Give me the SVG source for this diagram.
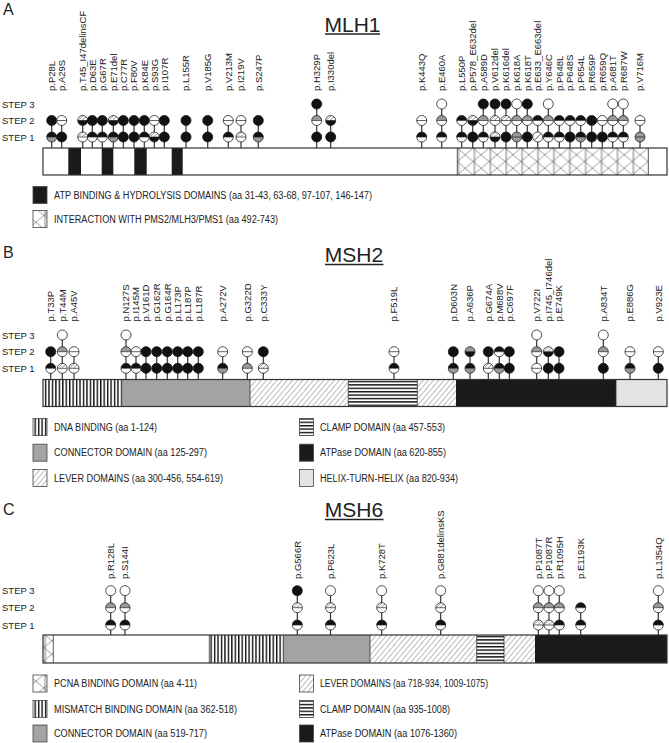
<svg xmlns="http://www.w3.org/2000/svg" width="669" height="743" viewBox="0 0 669 743">
<style>
text{font-family:"Liberation Sans",Arial,sans-serif;fill:#222}
.lb{font-size:9.5px}
.st{font-size:9.5px}
.lg{font-size:10px}
.ttl{font-size:21px;text-anchor:middle}
.pl{font-size:16px}
.stem line{stroke:#333;stroke-width:1.2}
.bar{fill:none;stroke:#333;stroke-width:1.2}
.sep{stroke:#333;stroke-width:.8}
.sw{stroke:#444;stroke-width:.8}
.ul{stroke:#222;stroke-width:1.3}
</style>
<defs>
<pattern id="vs" patternUnits="userSpaceOnUse" width="3.45" height="10"><rect width="3.45" height="10" fill="#fff"/><rect width="1.4" height="10" fill="#111"/></pattern>
<pattern id="hs" patternUnits="userSpaceOnUse" width="10" height="3.4"><rect width="10" height="3.4" fill="#fff"/><rect width="10" height="1.4" fill="#111"/></pattern>
<pattern id="ht" patternUnits="userSpaceOnUse" width="4" height="4" patternTransform="rotate(40)"><rect width="4" height="4" fill="#fff"/><line x1="0" y1="0" x2="0" y2="4" stroke="#555" stroke-width=".8"/></pattern>
<pattern id="xh" patternUnits="userSpaceOnUse" x="457.3" y="148" width="15.9" height="13.5"><rect width="15.9" height="13.5" fill="#fff"/><rect width="2.4" height="13.5" fill="#c4c4c4"/><path d="M0,0L15.9,13.5M15.9,0L0,13.5" stroke="#555" stroke-width=".6"/></pattern>
<path id="t" d="M-5,0A5,5 0 0 1 5,0Z"/>
<path id="b" d="M-5,0A5,5 0 0 0 5,0Z"/>
<g id="ring"><circle r="5" fill="none" stroke="#222" stroke-width=".8"/><path d="M-5,0H5" stroke="#222" stroke-width=".7"/></g>
<path id="hl" d="M-3.8,-0.6L0.4,-4.8M-0.6,-0.4L3.4,-3.6" stroke="#555" stroke-width=".6" fill="none"/>
<circle id="W" r="5" fill="#fff" stroke="#222" stroke-width=".8"/>
<circle id="B" r="5" fill="#111" stroke="#111" stroke-width=".8"/>
<g id="WW"><use href="#t" fill="#fff"/><use href="#b" fill="#fff"/><use href="#ring"/></g>
<g id="GW"><use href="#t" fill="#999"/><use href="#b" fill="#fff"/><use href="#ring"/></g>
<g id="BW"><use href="#t" fill="#111"/><use href="#b" fill="#fff"/><use href="#ring"/></g>
<g id="BG"><use href="#t" fill="#111"/><use href="#b" fill="#999"/><use href="#ring"/></g>
<g id="GB"><use href="#t" fill="#999"/><use href="#b" fill="#111"/><use href="#ring"/></g>
<g id="G"><use href="#t" fill="#999"/><use href="#b" fill="#999"/><use href="#ring"/></g>
<g id="HW"><use href="#t" fill="#fff"/><use href="#hl"/><use href="#b" fill="#fff"/><use href="#ring"/></g>
<g id="HB"><use href="#t" fill="#fff"/><use href="#hl"/><use href="#b" fill="#111"/><use href="#ring"/></g>
<g id="S"><circle r="5" fill="#fff" stroke="#222" stroke-width=".8"/><path d="M-3.4,3.4L3.4,-3.4" stroke="#222" stroke-width=".8"/></g>
</defs>
<rect width="669" height="743" fill="#fff"/>

<!-- ===================== PANEL A : MLH1 ===================== -->
<g id="panelA">
<text class="pl" x="3" y="15">A</text>
<text class="ttl" x="352.5" y="31.5">MLH1</text>
<line class="ul" x1="325" y1="34" x2="380" y2="34"/>
<text class="st" x="2" y="107.5">STEP 3</text>
<text class="st" x="2" y="124">STEP 2</text>
<text class="st" x="2" y="140.5">STEP 1</text>
<g id="mlh1-bar">
<rect x="43" y="148" width="624" height="27" fill="#fff"/>
<rect x="68.3" y="148" width="12.7" height="27" fill="#1a1a1a"/>
<rect x="101.7" y="148" width="11.6" height="27" fill="#1a1a1a"/>
<rect x="134.3" y="148" width="12.4" height="27" fill="#1a1a1a"/>
<rect x="171.7" y="148" width="11" height="27" fill="#1a1a1a"/>
<rect x="457.3" y="148" width="191" height="27" fill="url(#xh)"/>
<line class="sep" x1="457.3" y1="148" x2="457.3" y2="175"/>
<line class="sep" x1="648.3" y1="148" x2="648.3" y2="175"/>
<rect class="bar" x="43" y="148" width="624" height="27"/>
</g>
<g id="mlh1-connectors" class="stem">
<line x1="51.7" y1="120.5" x2="51.7" y2="148"/><line x1="61.7" y1="120.5" x2="61.7" y2="148"/>
<line x1="82.7" y1="120.5" x2="82.7" y2="148"/><line x1="92.3" y1="120.5" x2="92.3" y2="148"/>
<line x1="102.3" y1="120.5" x2="102.3" y2="148"/><line x1="113.3" y1="120.5" x2="113.3" y2="148"/>
<line x1="123.3" y1="120.5" x2="123.3" y2="148"/><line x1="134" y1="120.5" x2="134" y2="148"/>
<line x1="144.3" y1="120.5" x2="144.3" y2="148"/><line x1="154.3" y1="120.5" x2="154.3" y2="148"/>
<line x1="164.3" y1="120.5" x2="164.3" y2="148"/><line x1="186" y1="120.5" x2="186" y2="148"/>
<line x1="207.7" y1="120.5" x2="207.7" y2="148"/><line x1="228.3" y1="120.5" x2="228.3" y2="148"/>
<line x1="241" y1="120.5" x2="241" y2="148"/><line x1="258.3" y1="120.5" x2="258.3" y2="148"/>
<line x1="316.7" y1="104" x2="316.7" y2="148"/><line x1="330.7" y1="120.5" x2="330.7" y2="148"/>
<line x1="421.7" y1="120.5" x2="421.7" y2="148"/><line x1="441.7" y1="104" x2="441.7" y2="148"/>
<line x1="461.7" y1="120.5" x2="461.7" y2="148"/><line x1="472.7" y1="120.5" x2="472.7" y2="148"/>
<line x1="483.3" y1="104" x2="483.3" y2="148"/><line x1="495" y1="104" x2="495" y2="148"/>
<line x1="506" y1="104" x2="506" y2="148"/><line x1="516.7" y1="104" x2="516.7" y2="148"/>
<line x1="527.3" y1="104" x2="527.3" y2="148"/><line x1="537.7" y1="120.5" x2="537.7" y2="148"/>
<line x1="548.3" y1="104" x2="548.3" y2="148"/><line x1="559.3" y1="120.5" x2="559.3" y2="148"/>
<line x1="570" y1="120.5" x2="570" y2="148"/><line x1="580.7" y1="120.5" x2="580.7" y2="148"/>
<line x1="591.7" y1="120.5" x2="591.7" y2="148"/><line x1="602.3" y1="120.5" x2="602.3" y2="148"/>
<line x1="612.7" y1="104" x2="612.7" y2="148"/><line x1="623.3" y1="104" x2="623.3" y2="148"/>
<line x1="640" y1="120.5" x2="640" y2="148"/>
</g>
<g id="mlh1-P28L"><text class="lb" transform="translate(55.1,91)rotate(-90)">p.P28L</text><use href="#B" x="51.7" y="120.5"/><use href="#BG" x="51.7" y="137"/></g>
<g id="mlh1-A29S"><text class="lb" transform="translate(65.1,91)rotate(-90)">p.A29S</text><use href="#WW" x="61.7" y="120.5"/><use href="#B" x="61.7" y="137"/></g>
<g id="mlh1-T45"><text class="lb" transform="translate(86.1,91)rotate(-90)">p.T45_I47delinsCF</text><use href="#HB" x="82.7" y="120.5"/><use href="#HW" x="82.7" y="137"/></g>
<g id="mlh1-D63E"><text class="lb" transform="translate(95.7,91)rotate(-90)">p.D63E</text><use href="#B" x="92.3" y="120.5"/><use href="#BW" x="92.3" y="137"/></g>
<g id="mlh1-G67R"><text class="lb" transform="translate(105.7,91)rotate(-90)">p.G67R</text><use href="#B" x="102.3" y="120.5"/><use href="#BW" x="102.3" y="137"/></g>
<g id="mlh1-E71del"><text class="lb" transform="translate(116.7,91)rotate(-90)">p.E71del</text><use href="#HB" x="113.3" y="120.5"/><use href="#BG" x="113.3" y="137"/></g>
<g id="mlh1-C77R"><text class="lb" transform="translate(126.7,91)rotate(-90)">p.C77R</text><use href="#B" x="123.3" y="120.5"/><use href="#B" x="123.3" y="137"/></g>
<g id="mlh1-F80V"><text class="lb" transform="translate(137.4,91)rotate(-90)">p.F80V</text><use href="#B" x="134" y="120.5"/><use href="#B" x="134" y="137"/></g>
<g id="mlh1-K84E"><text class="lb" transform="translate(147.7,91)rotate(-90)">p.K84E</text><use href="#B" x="144.3" y="120.5"/><use href="#BW" x="144.3" y="137"/></g>
<g id="mlh1-S93G"><text class="lb" transform="translate(157.7,91)rotate(-90)">p.S93G</text><use href="#WW" x="154.3" y="120.5"/><use href="#HB" x="154.3" y="137"/></g>
<g id="mlh1-I107R"><text class="lb" transform="translate(167.7,91)rotate(-90)">p.I107R</text><use href="#B" x="164.3" y="120.5"/><use href="#B" x="164.3" y="137"/></g>
<g id="mlh1-L155R"><text class="lb" transform="translate(189.4,91)rotate(-90)">p.L155R</text><use href="#B" x="186" y="120.5"/><use href="#B" x="186" y="137"/></g>
<g id="mlh1-V185G"><text class="lb" transform="translate(211.1,91)rotate(-90)">p.V185G</text><use href="#B" x="207.7" y="120.5"/><use href="#B" x="207.7" y="137"/></g>
<g id="mlh1-V213M"><text class="lb" transform="translate(231.7,91)rotate(-90)">p.V213M</text><use href="#WW" x="228.3" y="120.5"/><use href="#BW" x="228.3" y="137"/></g>
<g id="mlh1-I219V"><text class="lb" transform="translate(244.4,91)rotate(-90)">p.I219V</text><use href="#WW" x="241" y="120.5"/><use href="#HW" x="241" y="137"/></g>
<g id="mlh1-S247P"><text class="lb" transform="translate(261.7,91)rotate(-90)">p.S247P</text><use href="#B" x="258.3" y="120.5"/><use href="#BG" x="258.3" y="137"/></g>
<g id="mlh1-H329P"><text class="lb" transform="translate(320.1,91)rotate(-90)">p.H329P</text><use href="#B" x="316.7" y="104"/><use href="#GW" x="316.7" y="120.5"/><use href="#B" x="316.7" y="137"/></g>
<g id="mlh1-I330del"><text class="lb" transform="translate(334.1,91)rotate(-90)">p.I330del</text><use href="#HB" x="330.7" y="120.5"/><use href="#B" x="330.7" y="137"/></g>
<g id="mlh1-K443Q"><text class="lb" transform="translate(425.1,91)rotate(-90)">p.K443Q</text><use href="#WW" x="421.7" y="120.5"/><use href="#BW" x="421.7" y="137"/></g>
<g id="mlh1-E460A"><text class="lb" transform="translate(445.1,91)rotate(-90)">p.E460A</text><use href="#W" x="441.7" y="104"/><use href="#GW" x="441.7" y="120.5"/><use href="#BW" x="441.7" y="137"/></g>
<g id="mlh1-L550P"><text class="lb" transform="translate(465.1,91)rotate(-90)">p.L550P</text><use href="#BW" x="461.7" y="120.5"/><use href="#BW" x="461.7" y="137"/></g>
<g id="mlh1-P578"><text class="lb" transform="translate(476.1,91)rotate(-90)">p.P578_E632del</text><use href="#HB" x="472.7" y="120.5"/><use href="#B" x="472.7" y="137"/></g>
<g id="mlh1-A589D"><text class="lb" transform="translate(486.7,91)rotate(-90)">p.A589D</text><use href="#B" x="483.3" y="104"/><use href="#GW" x="483.3" y="120.5"/><use href="#BW" x="483.3" y="137"/></g>
<g id="mlh1-V612del"><text class="lb" transform="translate(498.4,91)rotate(-90)">p.V612del</text><use href="#B" x="495" y="104"/><use href="#HW" x="495" y="120.5"/><use href="#HB" x="495" y="137"/></g>
<g id="mlh1-K616del"><text class="lb" transform="translate(509.4,91)rotate(-90)">p.K616del</text><use href="#B" x="506" y="104"/><use href="#HW" x="506" y="120.5"/><use href="#B" x="506" y="137"/></g>
<g id="mlh1-K618A"><text class="lb" transform="translate(520.1,91)rotate(-90)">p.K618A</text><use href="#W" x="516.7" y="104"/><use href="#GW" x="516.7" y="120.5"/><use href="#G" x="516.7" y="137"/></g>
<g id="mlh1-K618T"><text class="lb" transform="translate(530.7,91)rotate(-90)">p.K618T</text><use href="#B" x="527.3" y="104"/><use href="#GW" x="527.3" y="120.5"/><use href="#B" x="527.3" y="137"/></g>
<g id="mlh1-E633"><text class="lb" transform="translate(541.1,91)rotate(-90)">p.E633_E663del</text><use href="#BW" x="537.7" y="120.5"/><use href="#S" x="537.7" y="137"/></g>
<g id="mlh1-Y646C"><text class="lb" transform="translate(551.7,91)rotate(-90)">p.Y646C</text><use href="#W" x="548.3" y="104"/><use href="#GW" x="548.3" y="120.5"/><use href="#BW" x="548.3" y="137"/></g>
<g id="mlh1-P648L"><text class="lb" transform="translate(562.7,91)rotate(-90)">p.P648L</text><use href="#BW" x="559.3" y="120.5"/><use href="#BW" x="559.3" y="137"/></g>
<g id="mlh1-P648S"><text class="lb" transform="translate(573.4,91)rotate(-90)">p.P648S</text><use href="#BW" x="570" y="120.5"/><use href="#B" x="570" y="137"/></g>
<g id="mlh1-P654L"><text class="lb" transform="translate(584.1,91)rotate(-90)">p.P654L</text><use href="#BW" x="580.7" y="120.5"/><use href="#BG" x="580.7" y="137"/></g>
<g id="mlh1-R659P"><text class="lb" transform="translate(595.1,91)rotate(-90)">p.R659P</text><use href="#B" x="591.7" y="120.5"/><use href="#B" x="591.7" y="137"/></g>
<g id="mlh1-R659Q"><text class="lb" transform="translate(605.7,91)rotate(-90)">p.R659Q</text><use href="#WW" x="602.3" y="120.5"/><use href="#B" x="602.3" y="137"/></g>
<g id="mlh1-A681T"><text class="lb" transform="translate(616.1,91)rotate(-90)">p.A681T</text><use href="#W" x="612.7" y="104"/><use href="#GW" x="612.7" y="120.5"/><use href="#BW" x="612.7" y="137"/></g>
<g id="mlh1-R687W"><text class="lb" transform="translate(626.7,91)rotate(-90)">p.R687W</text><use href="#W" x="623.3" y="104"/><use href="#GW" x="623.3" y="120.5"/><use href="#BW" x="623.3" y="137"/></g>
<g id="mlh1-V716M"><text class="lb" transform="translate(643.4,91)rotate(-90)">p.V716M</text><use href="#WW" x="640" y="120.5"/><use href="#G" x="640" y="137"/></g>
<g id="mlh1-legend">
<rect class="sw" x="33" y="186.5" width="14" height="17" fill="#1a1a1a"/>
<text class="lg" x="54" y="198.5" textLength="318" lengthAdjust="spacingAndGlyphs">ATP BINDING &amp; HYDROLYSIS DOMAINS (aa 31-43, 63-68, 97-107, 146-147)</text>
<rect class="sw" x="33" y="210.5" width="14" height="17" fill="url(#xh)"/>
<text class="lg" x="54" y="222.5" textLength="224" lengthAdjust="spacingAndGlyphs">INTERACTION WITH PMS2/MLH3/PMS1 (aa 492-743)</text>
</g>
</g>

<!-- ===================== PANEL B : MSH2 ===================== -->
<g id="panelB">
<text class="pl" x="3" y="258">B</text>
<text class="ttl" x="354" y="261.5">MSH2</text>
<line class="ul" x1="325" y1="264.5" x2="383.5" y2="264.5"/>
<text class="st" x="2" y="338.5">STEP 3</text>
<text class="st" x="2" y="355.2">STEP 2</text>
<text class="st" x="2" y="371.8">STEP 1</text>
<g id="msh2-bar">
<rect x="43" y="379.5" width="78.7" height="27" fill="url(#vs)"/>
<rect x="121.7" y="379.5" width="128.3" height="27" fill="#a3a3a3"/>
<rect x="250" y="379.5" width="98.3" height="27" fill="url(#ht)"/>
<rect x="348.3" y="379.5" width="69" height="27" fill="url(#hs)"/>
<rect x="417.3" y="379.5" width="38.7" height="27" fill="url(#ht)"/>
<rect x="456" y="379.5" width="160" height="27" fill="#1a1a1a"/>
<rect x="616" y="379.5" width="51" height="27" fill="#e3e3e3"/>
<path class="sep" d="M121.7,379.5V406.5M250,379.5V406.5M348.3,379.5V406.5M417.3,379.5V406.5M616,379.5V406.5"/>
<rect class="bar" x="43" y="379.5" width="624" height="27"/>
</g>
<g id="msh2-connectors" class="stem">
<line x1="50.7" y1="351.7" x2="50.7" y2="379.5"/><line x1="62.3" y1="335" x2="62.3" y2="379.5"/>
<line x1="74" y1="351.7" x2="74" y2="379.5"/><line x1="126" y1="335" x2="126" y2="379.5"/>
<line x1="136" y1="351.7" x2="136" y2="379.5"/><line x1="146" y1="351.7" x2="146" y2="379.5"/>
<line x1="156.7" y1="351.7" x2="156.7" y2="379.5"/><line x1="167.3" y1="351.7" x2="167.3" y2="379.5"/>
<line x1="177.7" y1="351.7" x2="177.7" y2="379.5"/><line x1="187.7" y1="351.7" x2="187.7" y2="379.5"/>
<line x1="198.3" y1="351.7" x2="198.3" y2="379.5"/><line x1="222.7" y1="351.7" x2="222.7" y2="379.5"/>
<line x1="247.3" y1="351.7" x2="247.3" y2="379.5"/><line x1="263.3" y1="351.7" x2="263.3" y2="379.5"/>
<line x1="394" y1="351.7" x2="394" y2="379.5"/><line x1="453.3" y1="351.7" x2="453.3" y2="379.5"/>
<line x1="470" y1="351.7" x2="470" y2="379.5"/><line x1="488.3" y1="351.7" x2="488.3" y2="379.5"/>
<line x1="499.3" y1="351.7" x2="499.3" y2="379.5"/><line x1="509.3" y1="351.7" x2="509.3" y2="379.5"/>
<line x1="536.7" y1="335" x2="536.7" y2="379.5"/><line x1="548.3" y1="351.7" x2="548.3" y2="379.5"/>
<line x1="559" y1="351.7" x2="559" y2="379.5"/><line x1="603.3" y1="335" x2="603.3" y2="379.5"/>
<line x1="630" y1="351.7" x2="630" y2="379.5"/><line x1="658.3" y1="351.7" x2="658.3" y2="379.5"/>
</g>
<g id="msh2-T33P"><text class="lb" transform="translate(54.1,321.5)rotate(-90)">p.T33P</text><use href="#B" x="50.7" y="351.7"/><use href="#BW" x="50.7" y="368.3"/></g>
<g id="msh2-T44M"><text class="lb" transform="translate(65.7,321.5)rotate(-90)">p.T44M</text><use href="#W" x="62.3" y="335"/><use href="#GW" x="62.3" y="351.7"/><use href="#HW" x="62.3" y="368.3"/></g>
<g id="msh2-A45V"><text class="lb" transform="translate(77.4,321.5)rotate(-90)">p.A45V</text><use href="#WW" x="74" y="351.7"/><use href="#HW" x="74" y="368.3"/></g>
<g id="msh2-N127S"><text class="lb" transform="translate(129.4,321.5)rotate(-90)">p.N127S</text><use href="#W" x="126" y="335"/><use href="#GW" x="126" y="351.7"/><use href="#BW" x="126" y="368.3"/></g>
<g id="msh2-I145M"><text class="lb" transform="translate(139.4,321.5)rotate(-90)">p.I145M</text><use href="#WW" x="136" y="351.7"/><use href="#BW" x="136" y="368.3"/></g>
<g id="msh2-V161D"><text class="lb" transform="translate(149.4,321.5)rotate(-90)">p.V161D</text><use href="#B" x="146" y="351.7"/><use href="#B" x="146" y="368.3"/></g>
<g id="msh2-G162R"><text class="lb" transform="translate(160.1,321.5)rotate(-90)">p.G162R</text><use href="#B" x="156.7" y="351.7"/><use href="#B" x="156.7" y="368.3"/></g>
<g id="msh2-G164R"><text class="lb" transform="translate(170.7,321.5)rotate(-90)">p.G164R</text><use href="#B" x="167.3" y="351.7"/><use href="#B" x="167.3" y="368.3"/></g>
<g id="msh2-L173P"><text class="lb" transform="translate(181.1,321.5)rotate(-90)">p.L173P</text><use href="#B" x="177.7" y="351.7"/><use href="#B" x="177.7" y="368.3"/></g>
<g id="msh2-L187P"><text class="lb" transform="translate(191.1,321.5)rotate(-90)">p.L187P</text><use href="#B" x="187.7" y="351.7"/><use href="#B" x="187.7" y="368.3"/></g>
<g id="msh2-L187R"><text class="lb" transform="translate(201.7,321.5)rotate(-90)">p.L187R</text><use href="#B" x="198.3" y="351.7"/><use href="#B" x="198.3" y="368.3"/></g>
<g id="msh2-A272V"><text class="lb" transform="translate(226.1,321.5)rotate(-90)">p.A272V</text><use href="#WW" x="222.7" y="351.7"/><use href="#BG" x="222.7" y="368.3"/></g>
<g id="msh2-G322D"><text class="lb" transform="translate(250.7,321.5)rotate(-90)">p.G322D</text><use href="#WW" x="247.3" y="351.7"/><use href="#GW" x="247.3" y="368.3"/></g>
<g id="msh2-C333Y"><text class="lb" transform="translate(266.7,321.5)rotate(-90)">p.C333Y</text><use href="#B" x="263.3" y="351.7"/><use href="#HW" x="263.3" y="368.3"/></g>
<g id="msh2-F519L"><text class="lb" transform="translate(397.4,321.5)rotate(-90)">p.F519L</text><use href="#WW" x="394" y="351.7"/><use href="#BW" x="394" y="368.3"/></g>
<g id="msh2-D603N"><text class="lb" transform="translate(456.7,321.5)rotate(-90)">p.D603N</text><use href="#B" x="453.3" y="351.7"/><use href="#BG" x="453.3" y="368.3"/></g>
<g id="msh2-A636P"><text class="lb" transform="translate(473.4,321.5)rotate(-90)">p.A636P</text><use href="#GB" x="470" y="351.7"/><use href="#BG" x="470" y="368.3"/></g>
<g id="msh2-G674A"><text class="lb" transform="translate(491.7,321.5)rotate(-90)">p.G674A</text><use href="#B" x="488.3" y="351.7"/><use href="#HW" x="488.3" y="368.3"/></g>
<g id="msh2-M688V"><text class="lb" transform="translate(502.7,321.5)rotate(-90)">p.M688V</text><use href="#BW" x="499.3" y="351.7"/><use href="#BG" x="499.3" y="368.3"/></g>
<g id="msh2-C697F"><text class="lb" transform="translate(512.7,321.5)rotate(-90)">p.C697F</text><use href="#B" x="509.3" y="351.7"/><use href="#B" x="509.3" y="368.3"/></g>
<g id="msh2-V722I"><text class="lb" transform="translate(540.1,321.5)rotate(-90)">p.V722I</text><use href="#W" x="536.7" y="335"/><use href="#GW" x="536.7" y="351.7"/><use href="#WW" x="536.7" y="368.3"/></g>
<g id="msh2-I745"><text class="lb" transform="translate(551.7,321.5)rotate(-90)">p.I745_I746del</text><use href="#HB" x="548.3" y="351.7"/><use href="#B" x="548.3" y="368.3"/></g>
<g id="msh2-E749K"><text class="lb" transform="translate(562.4,321.5)rotate(-90)">p.E749K</text><use href="#B" x="559" y="351.7"/><use href="#B" x="559" y="368.3"/></g>
<g id="msh2-A834T"><text class="lb" transform="translate(606.7,321.5)rotate(-90)">p.A834T</text><use href="#W" x="603.3" y="335"/><use href="#GW" x="603.3" y="351.7"/><use href="#B" x="603.3" y="368.3"/></g>
<g id="msh2-E886G"><text class="lb" transform="translate(633.4,321.5)rotate(-90)">p.E886G</text><use href="#WW" x="630" y="351.7"/><use href="#BG" x="630" y="368.3"/></g>
<g id="msh2-V923E"><text class="lb" transform="translate(661.7,321.5)rotate(-90)">p.V923E</text><use href="#WW" x="658.3" y="351.7"/><use href="#B" x="658.3" y="368.3"/></g>
<g id="msh2-legend">
<rect class="sw" x="33" y="418.5" width="14" height="17" fill="url(#vs)"/>
<text class="lg" x="54" y="430.5" textLength="103" lengthAdjust="spacingAndGlyphs">DNA BINDING (aa 1-124)</text>
<rect class="sw" x="33" y="444.2" width="14" height="17" fill="#a3a3a3"/>
<text class="lg" x="54" y="456.2" textLength="153" lengthAdjust="spacingAndGlyphs">CONNECTOR DOMAIN (aa 125-297)</text>
<rect class="sw" x="33" y="469.5" width="14" height="17" fill="url(#ht)"/>
<text class="lg" x="54" y="481.5" textLength="169" lengthAdjust="spacingAndGlyphs">LEVER DOMAINS (aa 300-456, 554-619)</text>
<rect class="sw" x="299.5" y="418.5" width="14" height="17" fill="url(#hs)"/>
<text class="lg" x="320" y="430.5" textLength="125" lengthAdjust="spacingAndGlyphs">CLAMP DOMAIN (aa 457-553)</text>
<rect class="sw" x="299.5" y="444.2" width="14" height="17" fill="#1a1a1a"/>
<text class="lg" x="320" y="456.2" textLength="126" lengthAdjust="spacingAndGlyphs">ATPase DOMAIN (aa 620-855)</text>
<rect class="sw" x="299.5" y="469.5" width="14" height="17" fill="#e3e3e3"/>
<text class="lg" x="320" y="481.5" textLength="138" lengthAdjust="spacingAndGlyphs">HELIX-TURN-HELIX (aa 820-934)</text>
</g>
</g>

<!-- ===================== PANEL C : MSH6 ===================== -->
<g id="panelC">
<text class="pl" x="3" y="515">C</text>
<text class="ttl" x="354" y="516.5">MSH6</text>
<line class="ul" x1="325" y1="519.5" x2="383.5" y2="519.5"/>
<text class="st" x="2" y="594">STEP 3</text>
<text class="st" x="2" y="611.2">STEP 2</text>
<text class="st" x="2" y="628.5">STEP 1</text>
<g id="msh6-bar">
<rect x="43" y="635" width="624" height="28" fill="#fff"/>
<rect x="43" y="635" width="10.3" height="28" fill="url(#xh)"/>
<rect x="209.3" y="635" width="74" height="28" fill="url(#vs)"/>
<rect x="283.3" y="635" width="86.7" height="28" fill="#a3a3a3"/>
<rect x="370" y="635" width="106.7" height="28" fill="url(#ht)"/>
<rect x="476.7" y="635" width="27.3" height="28" fill="url(#hs)"/>
<rect x="504" y="635" width="31" height="28" fill="url(#ht)"/>
<rect x="535" y="635" width="132" height="28" fill="#1a1a1a"/>
<path class="sep" d="M53.3,635V663M209.3,635V663M283.3,635V663M370,635V663M476.7,635V663M504,635V663"/>
<rect class="bar" x="43" y="635" width="624" height="28"/>
</g>
<g id="msh6-connectors" class="stem">
<line x1="110.7" y1="590.7" x2="110.7" y2="635"/><line x1="125" y1="590.7" x2="125" y2="635"/>
<line x1="297.3" y1="590.7" x2="297.3" y2="635"/><line x1="330.5" y1="590.7" x2="330.5" y2="635"/>
<line x1="381.7" y1="590.7" x2="381.7" y2="635"/><line x1="440.7" y1="590.7" x2="440.7" y2="635"/>
<line x1="538.3" y1="590.7" x2="538.3" y2="635"/><line x1="549" y1="590.7" x2="549" y2="635"/>
<line x1="559.3" y1="590.7" x2="559.3" y2="635"/><line x1="580.7" y1="607.7" x2="580.7" y2="635"/>
<line x1="658.3" y1="590.7" x2="658.3" y2="635"/>
</g>
<g id="msh6-R128L"><text class="lb" transform="translate(114.1,579)rotate(-90)">p.R128L</text><use href="#W" x="110.7" y="590.7"/><use href="#GW" x="110.7" y="607.7"/><use href="#BW" x="110.7" y="625"/></g>
<g id="msh6-S144I"><text class="lb" transform="translate(128.4,579)rotate(-90)">p.S144I</text><use href="#W" x="125" y="590.7"/><use href="#GW" x="125" y="607.7"/><use href="#BW" x="125" y="625"/></g>
<g id="msh6-G566R"><text class="lb" transform="translate(300.7,579)rotate(-90)">p.G566R</text><use href="#B" x="297.3" y="590.7"/><use href="#HW" x="297.3" y="607.7"/><use href="#BW" x="297.3" y="625"/></g>
<g id="msh6-P623L"><text class="lb" transform="translate(333.9,579)rotate(-90)">p.P623L</text><use href="#W" x="330.5" y="590.7"/><use href="#HW" x="330.5" y="607.7"/><use href="#BW" x="330.5" y="625"/></g>
<g id="msh6-K728T"><text class="lb" transform="translate(385.1,579)rotate(-90)">p.K728T</text><use href="#W" x="381.7" y="590.7"/><use href="#HW" x="381.7" y="607.7"/><use href="#BW" x="381.7" y="625"/></g>
<g id="msh6-G881"><text class="lb" transform="translate(444.1,579)rotate(-90)">p.G881delinsKS</text><use href="#W" x="440.7" y="590.7"/><use href="#HW" x="440.7" y="607.7"/><use href="#BW" x="440.7" y="625"/></g>
<g id="msh6-P1087T"><text class="lb" transform="translate(541.7,579)rotate(-90)">p.P1087T</text><use href="#W" x="538.3" y="590.7"/><use href="#GW" x="538.3" y="607.7"/><use href="#HW" x="538.3" y="625"/></g>
<g id="msh6-P1087R"><text class="lb" transform="translate(552.4,579)rotate(-90)">p.P1087R</text><use href="#W" x="549" y="590.7"/><use href="#GW" x="549" y="607.7"/><use href="#HW" x="549" y="625"/></g>
<g id="msh6-R1095H"><text class="lb" transform="translate(562.7,579)rotate(-90)">p.R1095H</text><use href="#W" x="559.3" y="590.7"/><use href="#GW" x="559.3" y="607.7"/><use href="#BW" x="559.3" y="625"/></g>
<g id="msh6-E1193K"><text class="lb" transform="translate(584.1,579)rotate(-90)">p.E1193K</text><use href="#BW" x="580.7" y="607.7"/><use href="#BW" x="580.7" y="625"/></g>
<g id="msh6-L1354Q"><text class="lb" transform="translate(661.7,579)rotate(-90)">p.L1354Q</text><use href="#W" x="658.3" y="590.7"/><use href="#GW" x="658.3" y="607.7"/><use href="#BW" x="658.3" y="625"/></g>
<g id="msh6-legend">
<rect class="sw" x="33" y="675" width="14" height="17" fill="url(#xh)"/>
<text class="lg" x="54" y="687" textLength="143" lengthAdjust="spacingAndGlyphs">PCNA BINDING DOMAIN (aa 4-11)</text>
<rect class="sw" x="33" y="700.5" width="14" height="17" fill="url(#vs)"/>
<text class="lg" x="54" y="712.5" textLength="183" lengthAdjust="spacingAndGlyphs">MISMATCH BINDING DOMAIN (aa 362-518)</text>
<rect class="sw" x="33" y="725" width="14" height="17" fill="#a3a3a3"/>
<text class="lg" x="54" y="737" textLength="153" lengthAdjust="spacingAndGlyphs">CONNECTOR DOMAIN (aa 519-717)</text>
<rect class="sw" x="299.5" y="675" width="14" height="17" fill="url(#ht)"/>
<text class="lg" x="320" y="687" textLength="168" lengthAdjust="spacingAndGlyphs">LEVER DOMAINS (aa 718-934, 1009-1075)</text>
<rect class="sw" x="299.5" y="700.5" width="14" height="17" fill="url(#hs)"/>
<text class="lg" x="320" y="712.5" textLength="130" lengthAdjust="spacingAndGlyphs">CLAMP DOMAIN (aa 935-1008)</text>
<rect class="sw" x="299.5" y="725" width="14" height="17" fill="#1a1a1a"/>
<text class="lg" x="320" y="737" textLength="137" lengthAdjust="spacingAndGlyphs">ATPase DOMAIN (aa 1076-1360)</text>
</g>
</g>
</svg>
